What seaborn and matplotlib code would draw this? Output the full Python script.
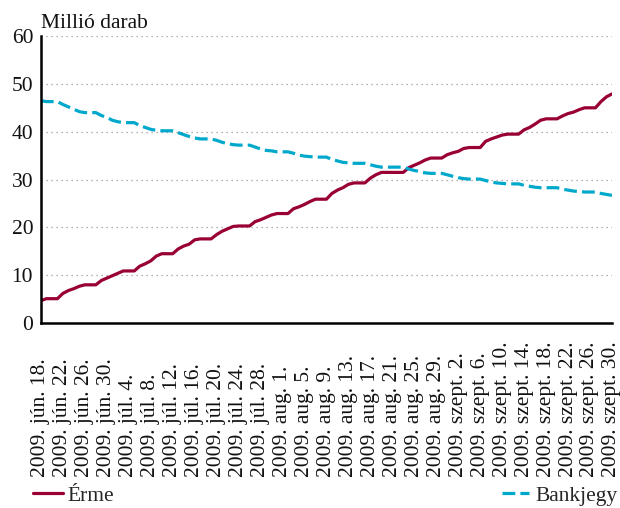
import numpy as np
import pandas as pd
import matplotlib
matplotlib.use("Agg")
import matplotlib.pyplot as plt
import seaborn as sns
from matplotlib.lines import Line2D

start_date = "2009-06-18"
end_date = "2009-09-30"

erme = [4.7, 5.1, 5.1, 5.1,
        6.2, 6.8, 7.2, 7.7, 8.0, 8.0, 8.0,
        8.9, 9.4, 9.9, 10.4, 10.9, 10.9, 10.9,
        11.9, 12.4, 13.0, 14.0, 14.5, 14.5, 14.5,
        15.5, 16.1, 16.5, 17.4, 17.6, 17.6, 17.6,
        18.5, 19.2, 19.7, 20.2, 20.3, 20.3, 20.3,
        21.2, 21.6, 22.1, 22.6, 22.9, 22.9, 22.9,
        23.9, 24.3, 24.8, 25.4, 25.9, 25.9, 25.9,
        27.1, 27.8, 28.3, 29.0, 29.3, 29.3, 29.3,
        30.3, 31.0, 31.5, 31.5, 31.5, 31.5, 31.5,
        32.5, 33.0, 33.5, 34.1, 34.5, 34.5, 34.5,
        35.2, 35.6, 35.9, 36.5, 36.7, 36.7, 36.7,
        38.0, 38.5, 38.9, 39.3, 39.5, 39.5, 39.5,
        40.4, 40.9, 41.6, 42.4, 42.7, 42.7, 42.7,
        43.3, 43.8, 44.1, 44.6, 45.0, 45.0, 45.0,
        46.3, 47.3, 47.9]

bankjegy = [46.5, 46.3, 46.3, 46.3,
            45.7, 45.2, 44.7, 44.2, 44.0, 44.0, 44.0,
            43.4, 43.0, 42.4, 42.1, 41.9, 41.9, 41.9,
            41.3, 40.9, 40.5, 40.3, 40.2, 40.2, 40.2,
            39.8, 39.4, 39.0, 38.7, 38.5, 38.5, 38.5,
            38.2, 37.8, 37.5, 37.3, 37.2, 37.2, 37.2,
            36.8, 36.4, 36.1, 36.0, 35.8, 35.8, 35.8,
            35.5, 35.1, 34.9, 34.8, 34.7, 34.7, 34.7,
            34.2, 33.9, 33.6, 33.5, 33.4, 33.4, 33.4,
            33.1, 32.8, 32.6, 32.6, 32.6, 32.6, 32.6,
            32.2, 31.9, 31.7, 31.4, 31.3, 31.3, 31.3,
            31.0, 30.7, 30.4, 30.2, 30.1, 30.1, 30.1,
            29.8, 29.5, 29.3, 29.2, 29.1, 29.1, 29.1,
            28.8, 28.6, 28.4, 28.3, 28.3, 28.3, 28.3,
            28.0, 27.8, 27.6, 27.5, 27.4, 27.4, 27.4,
            27.1, 26.9, 26.7]

tick_labels = ["2009. jún. 18.", "2009. jún. 22.", "2009. jún. 26.", "2009. jún. 30.",
               "2009. júl. 4.", "2009. júl. 8.", "2009. júl. 12.", "2009. júl. 16.",
               "2009. júl. 20.", "2009. júl. 24.", "2009. júl. 28.", "2009. aug. 1.",
               "2009. aug. 5.", "2009. aug. 9.", "2009. aug. 13.", "2009. aug. 17.",
               "2009. aug. 21.", "2009. aug. 25.", "2009. aug. 29.", "2009. szept. 2.",
               "2009. szept. 6.", "2009. szept. 10.", "2009. szept. 14.", "2009. szept. 18.",
               "2009. szept. 22.", "2009. szept. 26.", "2009. szept. 30."]

series_names = ["Érme", "Bankjegy"]
y_label = "Millió darab"

dates = pd.date_range(start_date, end_date, freq="D")
df = pd.DataFrame({"date": dates, series_names[0]: erme, series_names[1]: bankjegy})
long = df.melt(id_vars="date", var_name="series", value_name="value")

sns.set_theme(style="white")
plt.rcParams["font.family"] = ["Liberation Serif", "DejaVu Serif"]

RED = "#990033"
CYAN = "#00A9CC"
FS = 15.5

fig = plt.figure(figsize=(6.2, 5.08), dpi=100)
ax = fig.add_axes([0.066, 0.364, 0.921, 0.565])

sns.lineplot(data=long, x="date", y="value", hue="series", style="series",
             palette={series_names[0]: RED, series_names[1]: CYAN},
             dashes={series_names[0]: "", series_names[1]: (4.0, 1.6)},
             linewidth=2.3, ax=ax, legend=False)

ax.set_xlim(dates[0], dates[-1])
ax.set_ylim(0, 60)
ax.set_yticks(range(0, 61, 10))
ax.set_xticks(dates[::4])
ax.set_xticklabels(tick_labels, rotation=90, rotation_mode="anchor",
                   ha="left", va="center")
ax.set_xlabel("")
ax.set_ylabel("")

for y in range(10, 61, 10):
    ax.axhline(y, color="#999999", linestyle=(0, (1, 3)), linewidth=0.9, zorder=0)

for s in ["top", "right"]:
    ax.spines[s].set_visible(False)
for s in ["left", "bottom"]:
    ax.spines[s].set_color("black")
    ax.spines[s].set_linewidth(1.8)

ax.tick_params(axis="both", which="major", direction="out", length=3.6, width=1.8,
               color="black", labelsize=FS, labelcolor="#111111", pad=2)
ax.tick_params(axis="x", pad=107)

ax.text(0.0, 1.012, y_label, transform=ax.transAxes, fontsize=FS, ha="left", va="bottom",
        color="#111111")

h1 = Line2D([0], [0], color=RED, lw=2.3)
h2 = Line2D([0], [0], color=CYAN, lw=2.3, dashes=(4.0, 1.6))
fig.legend([h1], [series_names[0]], loc="lower left", bbox_to_anchor=(0.022, -0.034),
           frameon=False, fontsize=FS, handlelength=1.4, handletextpad=0.2)
fig.legend([h2], [series_names[1]], loc="lower right", bbox_to_anchor=(1.027, -0.034),
           frameon=False, fontsize=FS, handlelength=1.25, handletextpad=0.3)

fig.savefig("out.png", dpi=100)
